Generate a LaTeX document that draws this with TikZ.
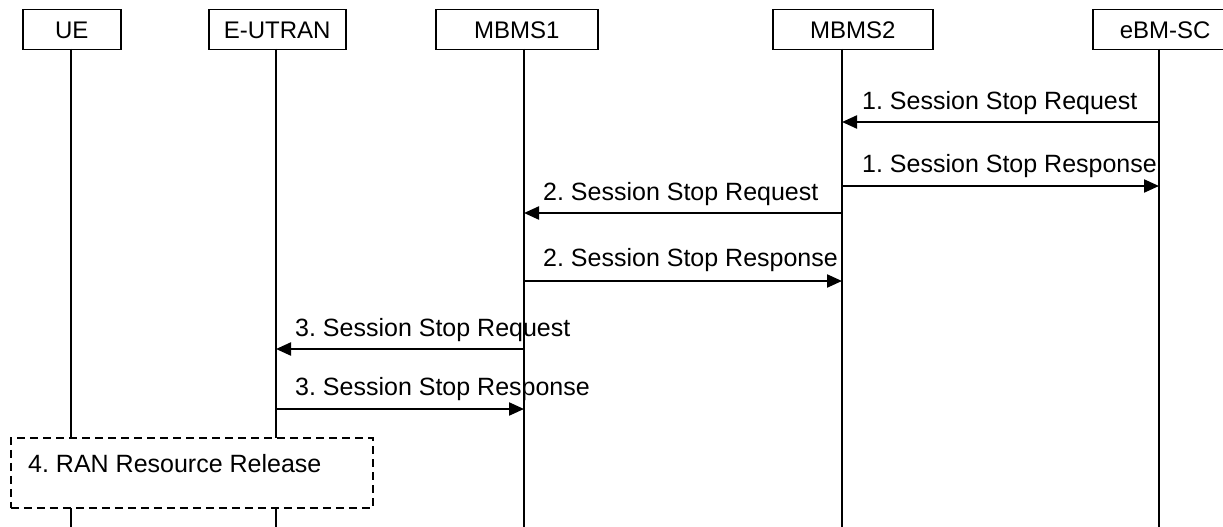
\documentclass[tikz,border=0pt]{standalone}
\usepackage{fontspec}
\setmainfont{Liberation Sans}
\usetikzlibrary{arrows.meta}
\begin{document}
\begin{tikzpicture}[x=1pt,y=-1pt,
  ent/.style={draw,line width=1.5pt,minimum height=40pt,inner sep=0pt,
    text height=17.2pt,text depth=0pt,
    font=\fontsize{24}{28}\selectfont,anchor=north west},
  life/.style={line width=1.5pt},
  msg/.style={line width=2.2pt,-{Triangle[length=15pt,width=13pt]}},
  lbl/.style={font=\frenchspacing\fontsize{25}{28}\selectfont,inner sep=0pt,anchor=base west},
  grp/.style={draw,line width=1.5pt,dash pattern=on 8pt off 5pt,fill=white,
    anchor=north west,minimum width=362pt,minimum height=70pt,inner sep=0pt}]
\useasboundingbox (0,0) rectangle (1223,527);
% entities
\node[ent,minimum width=98pt] (ue) at (22,9) {UE};
\node[ent,minimum width=137pt] (enb) at (208,9) {E-UTRAN};
\node[ent,minimum width=162pt] (m1) at (435,9) {MBMS1};
\node[ent,minimum width=160pt] (m2) at (772,9) {MBMS2};
\node[ent,minimum width=150pt,text width=130pt,align=left] (sc) at (1092,9) {\hspace*{17pt}eBM-SC};
% lifeline coordinates
\coordinate (ueT) at (71,49);  \coordinate (ueB) at (71,527);
\coordinate (enbT) at (276,49); \coordinate (enbB) at (276,527);
\coordinate (m1T) at (524,49); \coordinate (m1B) at (524,527);
\coordinate (m2T) at (842,49); \coordinate (m2B) at (842,527);
\coordinate (scT) at (1159,49); \coordinate (scB) at (1159,527);
\foreach \l in {ue,enb,m1,m2,sc} \draw[life] (\l T) -- (\l B);
% messages
\coordinate (a1) at (1159,122); \coordinate (b1) at (842,122);
\draw[msg] (a1) -- (b1);
\node[lbl] (t1) at (862,109) {1. Session Stop Request};
\coordinate (a2) at (842,186); \coordinate (b2) at (1159,186);
\draw[msg] (a2) -- (b2);
\node[lbl] (t2) at (862,172) {1. Session Stop Response};
\coordinate (a3) at (842,213); \coordinate (b3) at (524,213);
\draw[msg] (a3) -- (b3);
\node[lbl] (t3) at (543,200) {2. Session Stop Request};
\coordinate (a4) at (524,281); \coordinate (b4) at (842,281);
\draw[msg] (a4) -- (b4);
\node[lbl] (t4) at (543,266) {2. Session Stop Response};
\coordinate (a5) at (524,349); \coordinate (b5) at (276,349);
\draw[msg] (a5) -- (b5);
\node[lbl] (t5) at (295,336) {3. Session Stop Request};
\coordinate (a6) at (276,409); \coordinate (b6) at (524,409);
\draw[msg] (a6) -- (b6);
\node[lbl] (t6) at (295,395) {3. Session Stop Response};
% group
\node[grp] (g) at (10,437) {};
\node[lbl] (t7) at (28,472) {4. RAN Resource Release};
\end{tikzpicture}
\end{document}
